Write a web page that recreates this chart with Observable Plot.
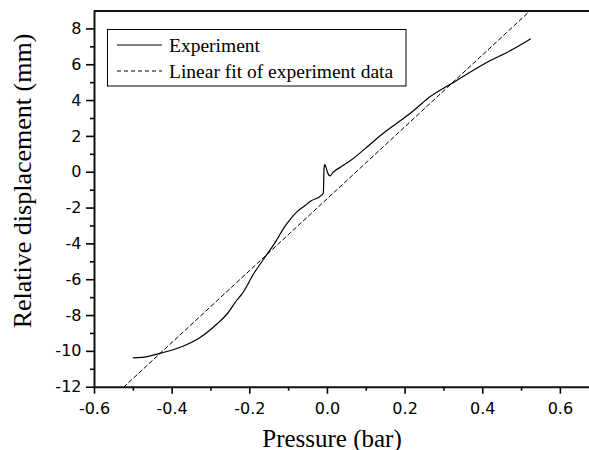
<!DOCTYPE html>
<html>
<head>
<meta charset="utf-8">
<script src="https://cdn.jsdelivr.net/npm/d3@7"></script>
<script src="https://cdn.jsdelivr.net/npm/@observablehq/plot@0.6"></script>
<style>
  html, body { margin: 0; padding: 0; background: #fff; overflow: hidden; }
  #chart svg { display: block; }
</style>
</head>
<body>
<div id="chart"></div>
<script>
// Experiment curve
const pressure = [-0.5, -0.464, -0.43, -0.379, -0.327, -0.284, -0.258, -0.234, -0.22, -0.19, -0.155, -0.134, -0.1125, -0.095, -0.078, -0.06, -0.0437, -0.0136, -0.0105, -0.0088, -0.007, -0.004, 0.0, 0.004, 0.007, 0.0147, 0.0335, 0.0593, 0.111, 0.1365, 0.2223, 0.2568, 0.3253, 0.4113, 0.4714, 0.5228];
const displacement = [-10.36, -10.29, -10.1, -9.77, -9.21, -8.46, -7.9, -7.16, -6.79, -5.67, -4.56, -3.9, -3.12, -2.6, -2.2, -1.9, -1.62, -1.25, -1.15, 0.2, 0.42, 0.3, 0.0, -0.17, -0.2, 0.0, 0.28, 0.65, 1.58, 2.05, 3.45, 4.09, 5.02, 6.14, 6.79, 7.44];

// Linear fit endpoints
const fitPressure = [-0.525, 0.518];
const fitDisplacement = [-12.0, 8.93];

// Axes
const xDomain = [-0.6, 0.675];
const yDomain = [-12, 9];
const xMajor = [-0.6, -0.4, -0.2, 0.0, 0.2, 0.4, 0.6];
const xMinor = [-0.5, -0.3, -0.1, 0.1, 0.3, 0.5];
const yMajor = [-12, -10, -8, -6, -4, -2, 0, 2, 4, 6, 8];
const yMinor = [-11, -9, -7, -5, -3, -1, 1, 3, 5, 7];

const xTitle = "Pressure (bar)";
const yTitle = "Relative displacement (mm)";
const legendLabels = ["Experiment", "Linear fit of experiment data"];

const expData = pressure.map((p, i) => ({p, d: displacement[i]}));
const fitData = fitPressure.map((p, i) => ({p, d: fitDisplacement[i]}));

const W = 589, H = 450;
const chart = Plot.plot({
  width: W,
  height: H,
  marginLeft: 94,
  marginRight: 0,
  marginTop: 10.5,
  marginBottom: 63.3,
  x: {domain: xDomain},
  y: {domain: yDomain},
  style: {fontFamily: "'DejaVu Sans', sans-serif", fontSize: "16px", color: "#000", background: "#fff", overflow: "visible"},
  marks: [
    Plot.axisX(xMajor, {tickSize: 7, tickPadding: 8, tickFormat: d => d.toFixed(1), label: null, strokeWidth: 1.6, fontSize: 16, fill: "#000"}),
    Plot.axisX(xMinor, {tickSize: 4, tickFormat: () => "", label: null, strokeWidth: 1.6}),
    Plot.axisY(yMajor, {tickSize: 8, tickPadding: 5, tickFormat: d => String(d), label: null, strokeWidth: 1.6, fontSize: 16, fill: "#000"}),
    Plot.axisY(yMinor, {tickSize: 4, tickFormat: () => "", label: null, strokeWidth: 1.6}),
    Plot.ruleY([yDomain[0]], {stroke: "#111", strokeWidth: 2}),
    Plot.ruleY([yDomain[1]], {stroke: "#111", strokeWidth: 2}),
    Plot.ruleX([xDomain[0]], {stroke: "#111", strokeWidth: 2}),
    Plot.line(fitData, {x: "p", y: "d", stroke: "#000", strokeWidth: 1, strokeDasharray: "4,3"}),
    Plot.line(expData, {x: "p", y: "d", stroke: "#000", strokeWidth: 1.2, curve: "monotone-x"})
  ]
});
document.getElementById("chart").appendChild(chart);

const svg = d3.select(chart);
const serif = "'Liberation Serif', 'Times New Roman', serif";
// Axis titles
svg.append("text")
  .attr("x", 332).attr("y", 446.5)
  .attr("text-anchor", "middle")
  .attr("font-family", serif)
  .attr("font-size", 25).attr("fill", "#000")
  .text(xTitle);
svg.append("text")
  .attr("transform", "translate(31,181) rotate(-90)")
  .attr("text-anchor", "middle")
  .attr("font-family", serif)
  .attr("font-size", 26).attr("fill", "#000")
  .text(yTitle);

// Legend
const lg = svg.append("g");
lg.append("rect")
  .attr("x", 107.5).attr("y", 29.5).attr("width", 298.5).attr("height", 56.5)
  .attr("fill", "#fff").attr("stroke", "#000").attr("stroke-width", 1);
const rowY = [45, 71];
const dashes = [null, "4,3"];
legendLabels.forEach((lab, i) => {
  const l = lg.append("line")
    .attr("x1", 117).attr("x2", 162).attr("y1", rowY[i]).attr("y2", rowY[i])
    .attr("stroke", "#000").attr("stroke-width", 1);
  if (dashes[i]) l.attr("stroke-dasharray", dashes[i]);
  lg.append("text")
    .attr("x", 169).attr("y", rowY[i] + 6.5)
    .attr("text-anchor", "start")
    .attr("font-family", serif)
    .attr("font-size", 19.5).attr("fill", "#000")
    .text(lab);
});
</script>
</body>
</html>
